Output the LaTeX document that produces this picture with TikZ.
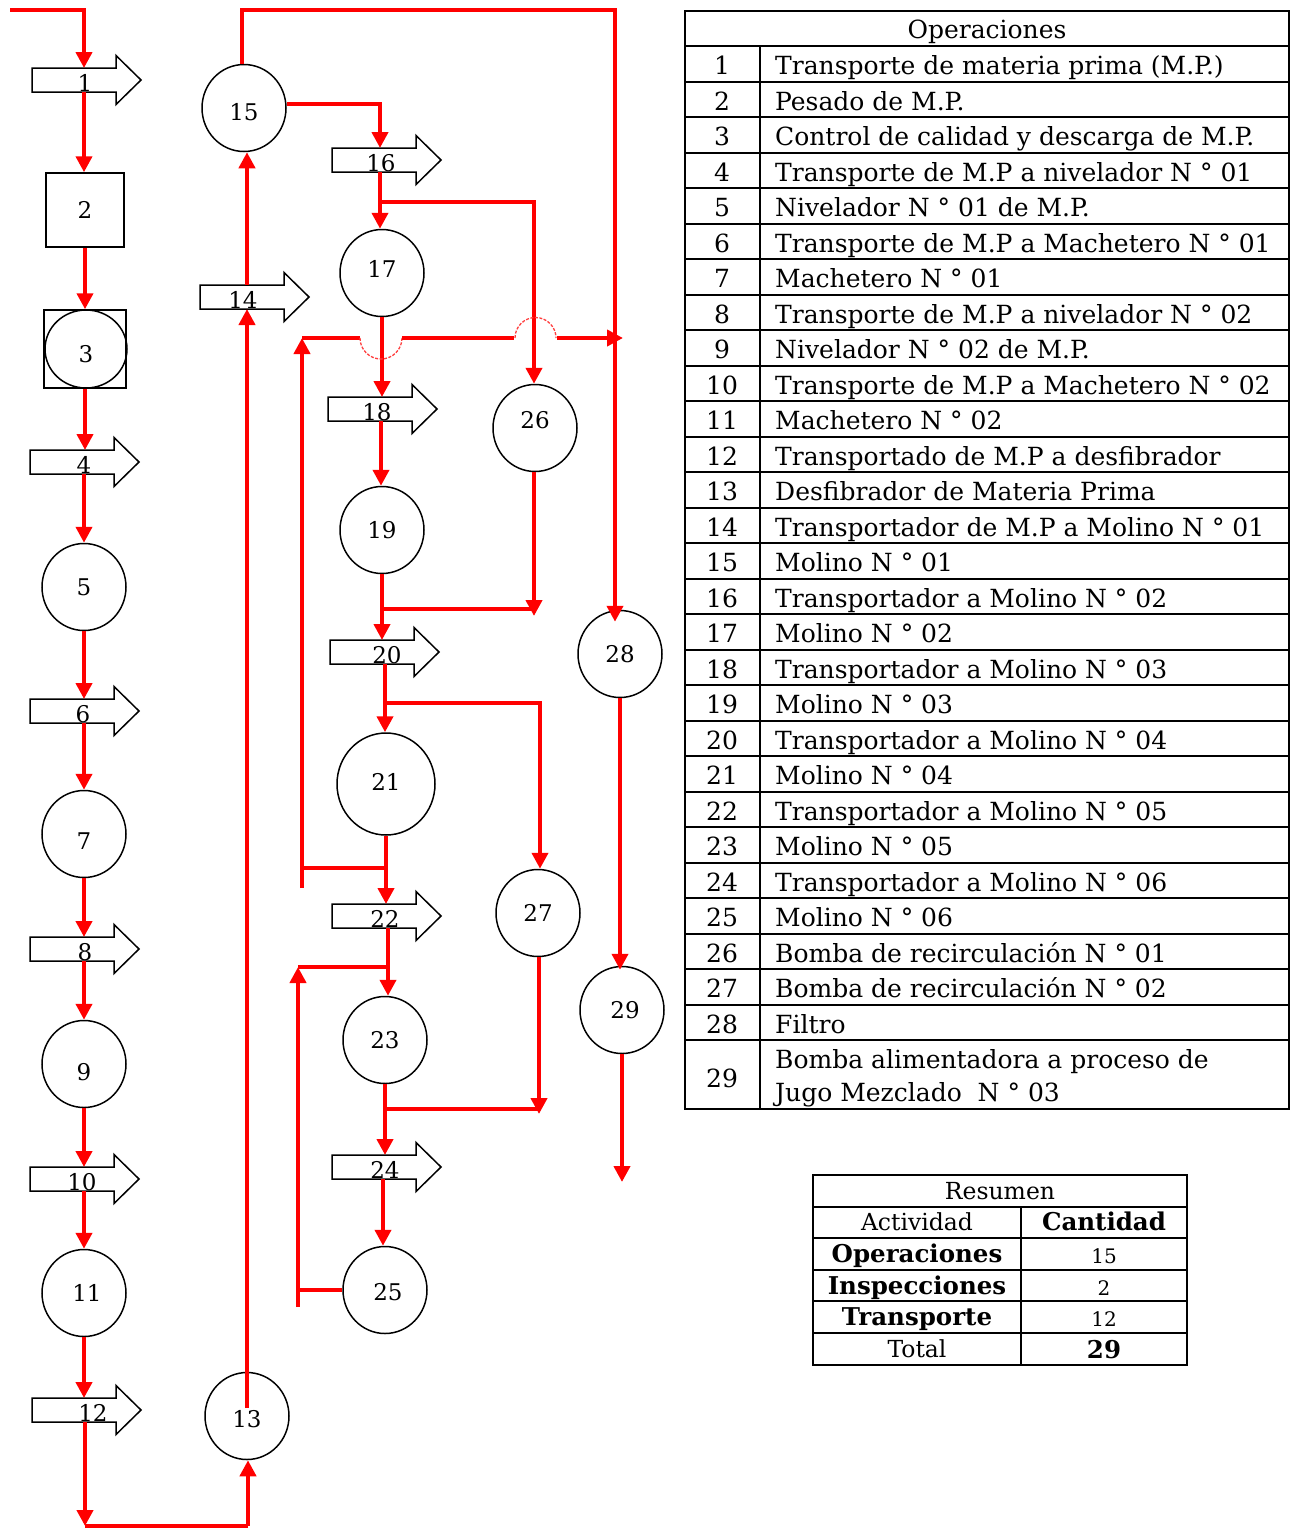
\documentclass[tikz,border=0pt]{standalone}
\usepackage{fontspec}
\setmainfont{DejaVu Serif}
\usetikzlibrary{arrows.meta,shapes.geometric,calc}
\newcommand\tabfont{\fontsize{25}{30}\selectfont}
\newcommand\resfont{\fontsize{23.5}{26}\selectfont}
\newcommand\resbold{\fontsize{24.5}{26}\selectfont\bfseries}
\newcommand\resnum{\fontsize{20}{24}\selectfont}
\tikzset{
  flow/.style={red, line width=4pt},
  fa/.style={flow, -{Triangle[width=16pt,length=16pt]}},
  brk/.style={red!75, line width=1.3pt, dash pattern=on 3pt off 1.5pt},
  shp/.style={draw=black, line width=1.5pt},
  op/.style={ellipse, draw=black, line width=1.5pt, minimum width=84pt, minimum height=87pt, inner sep=0pt},
  boxnode/.style={rectangle, draw=black, line width=1.5pt, inner sep=0pt, font=\fontsize{23}{23}\selectfont},
  lbl/.style={inner sep=0pt, font=\fontsize{23}{23}\selectfont},
  tbl/.style={draw=black, line width=2pt},
}
% transport arrow: name, left x, centre y, line x, label x, label
\newcommand\tarr[6]{%
  \draw[shp] (#2,#3-12) -- ++(84,0) -- ++(0,-12.5) -- ++(25,24.5) -- ++(-25,24.5) -- ++(0,-12.5) -- ++(-84,0) -- cycle;
  \node[lbl] (#1) at (#5,#3+3) {#6};
  \coordinate (#1-top) at (#4,#3-12);
  \coordinate (#1-bot) at (#4,#3+12);
}
\begin{document}
\begin{tikzpicture}[x=1pt,y=-1pt]
\fill[white] (0,0) rectangle (1292,1529);
\useasboundingbox (0,0) rectangle (1292,1529);

% ---- shapes ----
\node[boxnode, minimum width=78pt, minimum height=74pt] (n2) at (85,210) {2};
\node[boxnode, minimum width=82pt, minimum height=78pt] (n3) at (85,349) {};
\node[op, minimum width=82pt, minimum height=78pt, label={[lbl,yshift=-5pt]center:3}] (n3c) at (86,349) {};
\node[op, label={[lbl]center:5}] (n5) at (84,587) {};
\node[op, label={[lbl,yshift=-7pt]center:7}] (n7) at (84,834) {};
\node[op, label={[lbl,yshift=-8pt]center:9}] (n9) at (84,1064) {};
\node[op, label={[lbl,xshift=3pt]center:11}] (n11) at (84,1293) {};
\node[op, label={[lbl,yshift=-3pt]center:13}] (n13) at (247,1416) {};
\node[op, label={[lbl,yshift=-4pt]center:15}] (n15) at (244,108) {};
\node[op, label={[lbl,yshift=4pt]center:17}] (n17) at (382,273) {};
\node[op, label={[lbl]center:19}] (n19) at (382,530) {};
\node[op, minimum width=98pt, minimum height=102pt, label={[lbl,yshift=2pt]center:21}] (n21) at (386,784) {};
\node[op, label={[lbl]center:23}] (n23) at (385,1040) {};
\node[op, label={[lbl,yshift=-2pt,xshift=3pt]center:25}] (n25) at (385,1290) {};
\node[op, label={[lbl,yshift=8pt]center:26}] (n26) at (535,428) {};
\node[op, label={[lbl]center:27}] (n27) at (538,913) {};
\node[op, label={[lbl]center:28}] (n28) at (620,654) {};
\node[op, label={[lbl,xshift=3pt]center:29}] (n29) at (622,1010) {};

\tarr{t1}{32}{80}{84}{85}{1}
\tarr{t4}{30}{462}{84}{84}{4}
\tarr{t6}{30}{711}{84}{83}{6}
\tarr{t8}{30}{949}{84}{85}{8}
\tarr{t10}{30}{1179}{84}{82}{10}
\tarr{t12}{32}{1410}{85}{93}{12}
\tarr{t14}{200}{297}{247}{243}{14}
\tarr{t16}{332}{160}{380}{381}{16}
\tarr{t18}{328}{409}{381}{377}{18}
\tarr{t20}{330}{652}{385}{387}{20}
\tarr{t22}{332}{916}{388}{385}{22}
\tarr{t24}{332}{1167}{383}{385}{24}

% ---- connectors ----
\draw[fa] (10,10) -- (84,10) -- (t1-top);
\draw[fa] (t1-bot) -- (t1-bot |- n2.north);
\draw[fa] (n2.south) -- (n3.north);
\draw[fa] (n3.south) -- (n3.south |- t4-top);
\draw[fa] (t4-bot) -- (t4-bot |- n5.north);
\draw[fa] (n5.south) -- (n5.south |- t6-top);
\draw[fa] (t6-bot) -- (t6-bot |- n7.north);
\draw[fa] (n7.south) -- (n7.south |- t8-top);
\draw[fa] (t8-bot) -- (t8-bot |- n9.north);
\draw[fa] (n9.south) -- (n9.south |- t10-top);
\draw[fa] (t10-bot) -- (t10-bot |- n11.north);
\draw[fa] (n11.south) -- (n11.south |- t12-top);
\coordinate (c12) at (85,1526);
\coordinate (c13) at (248,1526);
\draw[fa] (t12-bot) -- (c12);
\draw[flow] (c12) -- (c13);
\draw[fa] (c13) -- (c13 |- n13.south);
\draw[fa] ($(n13.center)+(0,-8)$) -- (n13.center |- t14-bot);
\draw[fa] (t14-top) -- (t14-top |- n15.south);
\coordinate (c15) at (242,10);
\coordinate (c28) at (615,10);
\draw[fa] (c15 |- n15.north) -- (c15) -- (c28) -- ($(c28 |- n28.north)+(0,12)$);
\coordinate (c16) at (380,104);
\draw[fa] (n15.east |- c16) -- (c16) -- (t16-top);
\draw[fa] (t16-bot) -- (t16-bot |- n17.north);
\coordinate (c26) at (534,202);
\draw[fa] (t16-bot |- c26) -- (c26) -- (c26 |- n26.north);
\draw[fa] (n17.south) -- (n17.south |- t18-top);
% recirculation 1 with line jumps
\coordinate (rL) at (302,338);
\coordinate (rR) at (623,338);
\draw[fa] (302,888) -- (rL);
\draw[flow] (rL) -- (360,338);
\draw[brk] (360,338) arc[start angle=180, end angle=0, radius=21];
\draw[flow] (402,338) -- (514,338);
\draw[brk] (515,338) arc[start angle=180, end angle=360, radius=20.5];
\draw[fa] (557,338) -- (rR);
\draw[fa] (t18-bot) -- (t18-bot |- n19.north);
\coordinate (m26) at (534,616);
\draw[fa] (m26 |- n26.south) -- (m26);
\draw[flow] (n19.south |- 0,609) -- (534,609);
\draw[fa] (n19.south) -- (n19.south |- t20-top);
\draw[fa] (t20-bot) -- (t20-bot |- n21.north);
\coordinate (c27) at (540,703);
\draw[fa] (t20-bot |- c27) -- (c27) -- (c27 |- n27.north);
\draw[fa] (n21.south) -- (n21.south |- t22-top);
\draw[flow] (302,868) -- (n21.south |- 0,868);
\draw[fa] (t22-bot) -- (t22-bot |- n23.north);
\coordinate (c23) at (298,967);
\draw[flow] (t22-bot |- c23) -- (c23);
\draw[fa] (298,1307) -- (c23);
\draw[flow] (298,1290) -- (n25.west);
\coordinate (m27) at (539,1114);
\draw[fa] (m27 |- n27.south) -- (m27);
\draw[flow] (n23.south |- 0,1109) -- (539,1109);
\draw[fa] (n23.south) -- (n23.south |- t24-top);
\draw[fa] (t24-bot) -- (t24-bot |- n25.north);
\draw[fa] (n28.south) -- ($(n28.south |- n29.north)+(0,4)$);
\coordinate (out29) at (622,1182);
\draw[fa] (n29.south) -- (out29);

% ---- table Operaciones ----
\draw[tbl] (685,11) rectangle (1289,1109);
\foreach \k in {0,...,28} \draw[tbl] (685,46+35.5*\k) -- (1289,46+35.5*\k);
\draw[tbl] (760,46) -- (760,1109);
\node[anchor=base, inner sep=0pt, font=\tabfont] (hdr) at (987,38) {Operaciones};
\foreach \t [count=\i] in {
  {Transporte de materia prima (M.P.)},
  {Pesado de M.P.},
  {Control de calidad y descarga de M.P.},
  {Transporte de M.P a nivelador N ° 01},
  {Nivelador N ° 01 de M.P.},
  {Transporte de M.P a Machetero N ° 01},
  {Machetero N ° 01},
  {Transporte de M.P a nivelador N ° 02},
  {Nivelador N ° 02 de M.P.},
  {Transporte de M.P a Machetero N ° 02},
  {Machetero N ° 02},
  {Transportado de M.P a desfibrador},
  {Desfibrador de Materia Prima},
  {Transportador de M.P a Molino N ° 01},
  {Molino N ° 01},
  {Transportador a Molino N ° 02},
  {Molino N ° 02},
  {Transportador a Molino N ° 03},
  {Molino N ° 03},
  {Transportador a Molino N ° 04},
  {Molino N ° 04},
  {Transportador a Molino N ° 05},
  {Molino N ° 05},
  {Transportador a Molino N ° 06},
  {Molino N ° 06},
  {Bomba de recirculación N ° 01},
  {Bomba de recirculación N ° 02},
  {Filtro}} {
  \node[anchor=base, inner sep=0pt, font=\tabfont] (k\i) at (722,46+35.5*\i-7) {\i};
  \node[anchor=base west, inner sep=0pt, font=\tabfont] (r\i) at (775,46+35.5*\i-7) {\t};
}
\node[anchor=base, inner sep=0pt, font=\tabfont] (k29) at (722,1087) {29};
\node[anchor=base west, inner sep=0pt, font=\tabfont] (r29a) at (775,1068) {Bomba alimentadora a proceso de};
\node[anchor=base west, inner sep=0pt, font=\tabfont] (r29b) at (775,1101) {Jugo Mezclado\ \ N ° 03};

% ---- table Resumen ----
\draw[tbl] (813,1175) rectangle (1187,1365);
\foreach \yy in {1207,1238,1270,1301,1333} \draw[tbl] (813,\yy) -- (1187,\yy);
\draw[tbl] (1021,1207) -- (1021,1365);
\node[anchor=base, inner sep=0pt, font=\resfont] (rs) at (1000,1199) {Resumen};
\node[anchor=base, inner sep=0pt, font=\resfont] (ra) at (917,1230) {Actividad};
\node[anchor=base, inner sep=0pt, font=\resbold] (rc) at (1104,1230) {Cantidad};
\node[anchor=base, inner sep=0pt, font=\resbold] (ro) at (917,1262) {Operaciones};
\node[anchor=base, inner sep=0pt, font=\resnum] (ro2) at (1104,1263) {15};
\node[anchor=base, inner sep=0pt, font=\resbold] (ri) at (917,1294) {Inspecciones};
\node[anchor=base, inner sep=0pt, font=\resnum] (ri2) at (1104,1295) {2};
\node[anchor=base, inner sep=0pt, font=\resbold] (rt) at (917,1325) {Transporte};
\node[anchor=base, inner sep=0pt, font=\resnum] (rt2) at (1104,1326) {12};
\node[anchor=base, inner sep=0pt, font=\resfont] (rto) at (917,1357) {Total};
\node[anchor=base, inner sep=0pt, font=\resbold] (rto2) at (1104,1358) {29};
\end{tikzpicture}
\end{document}
